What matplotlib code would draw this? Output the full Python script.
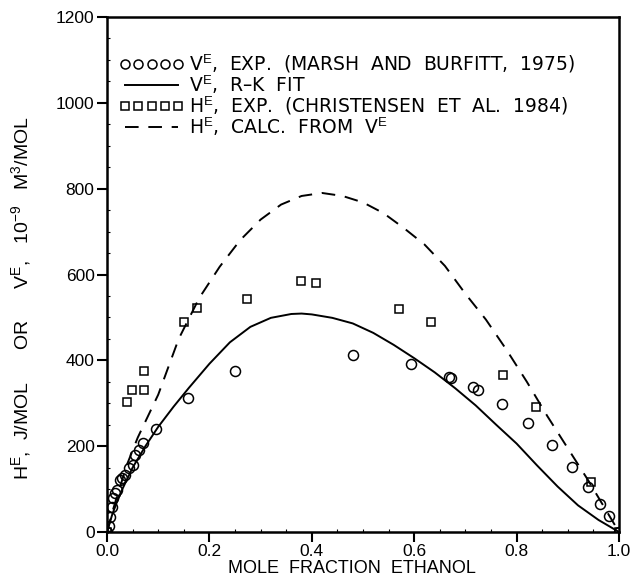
import matplotlib
matplotlib.use("Agg")
import matplotlib.pyplot as plt
from matplotlib.ticker import MultipleLocator

plt.rcParams['font.family'] = ['Liberation Sans', 'DejaVu Sans']
plt.rcParams['mathtext.fontset'] = 'custom'
plt.rcParams['mathtext.rm'] = 'Liberation Sans'
plt.rcParams['mathtext.it'] = 'Liberation Sans'

# V^E experimental (Marsh and Burfitt, 1975)
x_ve = [0.0, 0.003, 0.006, 0.009, 0.012, 0.016, 0.019, 0.025, 0.030, 0.035, 0.043,
        0.050, 0.055, 0.063, 0.071, 0.096, 0.158, 0.250, 0.481, 0.594, 0.667, 0.671,
        0.715, 0.725, 0.772, 0.823, 0.869, 0.908, 0.940, 0.963, 0.980, 1.0]
y_ve = [0, 15, 35, 58, 79, 90, 98, 121, 125, 133, 150,
        156, 179, 190, 207, 240, 312, 374, 412, 392, 362, 358,
        338, 331, 298, 253, 202, 152, 105, 65, 37, 0]

# V^E Redlich-Kister fit
x_rk = [0.0, 0.005, 0.01, 0.02, 0.03, 0.05, 0.075, 0.10, 0.13, 0.16, 0.20, 0.24,
        0.28, 0.32, 0.36, 0.38, 0.40, 0.44, 0.48, 0.52, 0.56, 0.60, 0.64, 0.68,
        0.72, 0.76, 0.80, 0.84, 0.88, 0.92, 0.96, 1.0]
y_rk = [0, 20, 40, 72, 100, 150, 200, 245, 292, 336, 392, 442,
        478, 499, 508, 509, 507, 499, 486, 464, 436, 405, 372, 335,
        295, 250, 206, 155, 106, 62, 28, 0]

# H^E experimental (Christensen et al. 1984)
x_he = [0.0, 0.039, 0.049, 0.072, 0.072, 0.150, 0.176, 0.273, 0.379, 0.408,
        0.570, 0.633, 0.774, 0.838, 0.945, 1.0]
y_he = [0, 303, 331, 331, 375, 489, 522, 543, 585, 580,
        520, 489, 366, 291, 116, 0]

# H^E calculated from V^E
x_calc = [0.0, 0.01, 0.02, 0.04, 0.06, 0.10, 0.14, 0.18, 0.22, 0.26, 0.30, 0.34,
          0.38, 0.42, 0.46, 0.50, 0.54, 0.58, 0.62, 0.66, 0.70, 0.74, 0.78,
          0.82, 0.86, 0.90, 0.94, 0.97, 1.0]
y_calc = [0, 45, 85, 160, 220, 320, 450, 545, 618, 680, 728, 763,
          783, 790, 783, 768, 743, 708, 670, 620, 555, 495, 425,
          350, 270, 195, 120, 60, 0]

fig = plt.figure(figsize=(6.31, 5.83), dpi=100)
ax = fig.add_axes([0.1696, 0.0875, 0.8114, 0.8833])

ax.plot(x_ve, y_ve, 'o', ms=7.2, mfc='none', mec='black', mew=1.1,
        label='V$^E$,  EXP.  (MARSH  AND  BURFITT,  1975)')
ax.plot(x_rk, y_rk, '-', color='black', lw=1.4, label='V$^E$,  R\u2013K  FIT')
ax.plot(x_he, y_he, 's', ms=6.3, mfc='none', mec='black', mew=1.1,
        label='H$^E$,  EXP.  (CHRISTENSEN  ET  AL.  1984)')
ax.plot(x_calc, y_calc, color='black', lw=1.4, dashes=(7, 5),
        label='H$^E$,  CALC.  FROM  V$^E$')

ax.set_xlim(0, 1.0)
ax.set_ylim(0, 1200)
ax.set_xticks([0.0, 0.2, 0.4, 0.6, 0.8, 1.0])
ax.set_yticks(range(0, 1201, 200))
ax.xaxis.set_minor_locator(MultipleLocator(0.05))
ax.yaxis.set_minor_locator(MultipleLocator(50))
ax.tick_params(which='major', direction='out', length=7, width=1.5,
               labelsize=12.5, pad=2)
ax.tick_params(which='minor', direction='in', length=2.5, width=0.8)
for s in ax.spines.values():
    s.set_linewidth(1.8)

ax.set_xlabel('MOLE  FRACTION  ETHANOL', fontsize=13)
ax.set_ylabel('H$^E$,  J/MOL      OR      V$^E$,   10$^{-9}$   M$^3$/MOL',
              fontsize=14)
ax.xaxis.set_label_coords(0.478, -0.055)
ax.yaxis.set_label_coords(-0.145, 0.455)

leg = ax.legend(loc='upper left', bbox_to_anchor=(0.01, 0.945), frameon=False,
                numpoints=5, markerscale=0.9, handlelength=3.4,
                handletextpad=0.3, labelspacing=-0.06, borderaxespad=0,
                prop={'family': ['DejaVu Sans'], 'size': 13.5})

fig.savefig('out.png', dpi=100)
